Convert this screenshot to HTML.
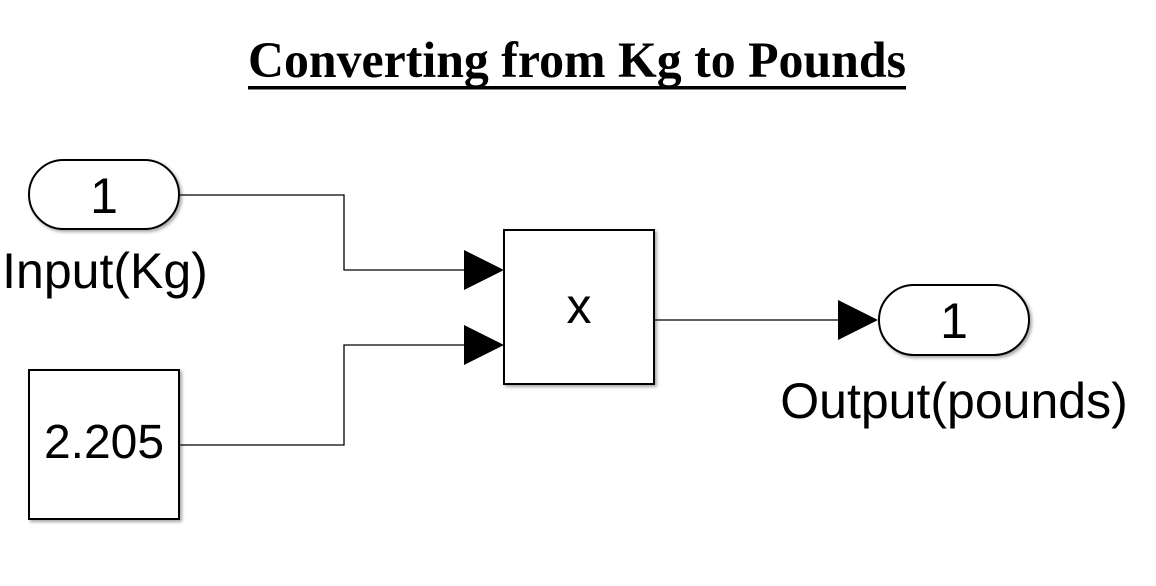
<!DOCTYPE html>
<html><head><style>html,body{margin:0;padding:0;background:#fff}</style></head><body>
<svg width="1156" height="581" viewBox="0 0 1156 581" xmlns="http://www.w3.org/2000/svg">
<defs><filter id="sh" x="-10%" y="-10%" width="130%" height="130%"><feDropShadow dx="2" dy="2" stdDeviation="1.5" flood-color="#000" flood-opacity="0.35"/></filter></defs>
<rect width="1156" height="581" fill="#fff"/>
<text x="248" y="77" font-family="Liberation Serif, serif" font-weight="bold" font-size="51" textLength="658" lengthAdjust="spacingAndGlyphs">Converting from Kg to Pounds</text>
<rect x="248" y="86" width="658" height="3.5" fill="#000"/>
<g fill="#fff" stroke="#000" stroke-width="2" filter="url(#sh)">
<rect x="29" y="160" width="150" height="69" rx="34.5"/>
<rect x="29" y="370" width="150" height="149"/>
<rect x="504" y="230" width="150" height="154"/>
<rect x="879" y="285" width="150" height="70" rx="35"/>
</g>
<g fill="none" stroke="#000" stroke-width="1.3">
<polyline points="180,195 344,195 344,270 466,270"/>
<polyline points="180,445 344,445 344,345 466,345"/>
<line x1="655" y1="320" x2="840" y2="320"/>
</g>
<g fill="#000">
<polygon points="464,250 504,270 464,290"/>
<polygon points="464,325 504,345 464,365"/>
<polygon points="838,300 878,320 838,340"/>
</g>
<g font-family="Liberation Sans, sans-serif" font-size="50" text-anchor="middle" fill="#000">
<text x="104" y="213">1</text>
<text x="954" y="338">1</text>
<text x="104" y="458" font-size="48">2.205</text>
<text x="579" y="323">x</text>
<text x="105" y="288">Input(Kg)</text>
<text x="954" y="418">Output(pounds)</text>
</g>
</svg>
</body></html>
